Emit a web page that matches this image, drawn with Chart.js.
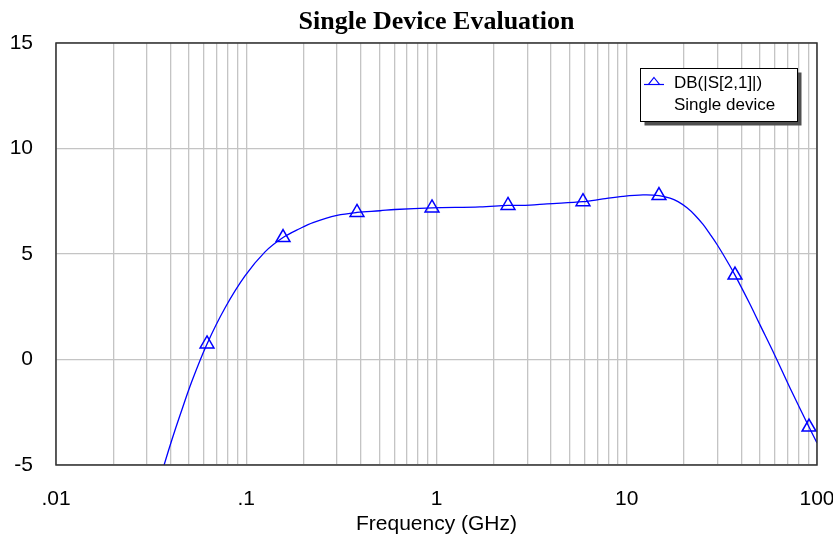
<!DOCTYPE html>
<html>
<head>
<meta charset="utf-8">
<script src="https://cdn.jsdelivr.net/npm/chart.js@4/dist/chart.umd.min.js"></script>
<style>
  html, body { margin: 0; padding: 0; background: #ffffff; }
  canvas { display: block; }
</style>
</head>
<body>
<canvas id="chart" width="833" height="540"></canvas>
<script>
// Swept |S21| of the single device, in dB, against frequency in GHz
const curveFreqGHz = [0.0312, 0.0370, 0.0407, 0.0449, 0.0519, 0.0622, 0.0773, 0.0985, 0.1255,
  0.1561, 0.1917, 0.2244, 0.2999, 0.382, 0.5047, 0.6051, 0.947, 1.692, 2.376, 3.100, 3.808,
  5.888, 7.504, 9.557, 12.17, 14.77, 16.88, 18.60, 20.74, 22.84, 25.18, 27.39, 29.82, 33.65,
  37.07, 43.92, 50.17, 60.15, 72.14, 90.79, 100];
const curveGainDb = [-7.26, -5.00, -3.79, -2.63, -1.01, 0.735, 2.44, 3.96, 5.10,
  5.78, 6.21, 6.49, 6.83, 6.97, 7.05, 7.11, 7.185, 7.23, 7.30, 7.32, 7.38,
  7.48, 7.61, 7.73, 7.80, 7.77, 7.65, 7.48, 7.19, 6.84, 6.40, 5.94, 5.45, 4.67,
  4.00, 2.71, 1.64, 0.18, -1.35, -3.20, -3.96];

// Trace markers placed along the sweep
const markerFreqGHz = [0.0622, 0.1561, 0.382, 0.947, 2.376, 5.888, 14.77, 37.07, 90.79];
const markerGainDb = [0.735, 5.78, 6.97, 7.185, 7.30, 7.48, 7.77, 4.00, -3.20];

// Axis ticks
const xDecades = [0.01, 0.1, 1, 10, 100];
const xDecadeLabels = ['.01', '.1', '1', '10', '100'];
const yTicks = [-5, 0, 5, 10, 15];

const chartTitle = 'Single Device Evaluation';
const traceName = 'DB(|S[2,1]|)';
const traceSubName = 'Single device';

// Log grid: 1..9 within each decade, plus the final decade line
const xGridValues = [];
xDecades.forEach((d, i) => {
  if (i === xDecades.length - 1) { xGridValues.push(d); return; }
  for (let m = 1; m <= 9; m++) xGridValues.push(+(d * m).toPrecision(3));
});

const toPoints = (xs, ys) => xs.map((x, i) => ({ x, y: ys[i] }));

const BLUE = '#0000ff';
const GRID = '#c4c4c4';
const SANS = '"Liberation Sans", Arial, sans-serif';

// Title centred over the plotting area, and the dark frame round it
const frameAndTitle = {
  id: 'frameAndTitle',
  afterDatasetsDraw(chart) {
    const { ctx, chartArea: a } = chart;
    ctx.save();
    ctx.strokeStyle = '#303030';
    ctx.lineWidth = 1.5;
    ctx.strokeRect(Math.round(a.left), Math.round(a.top),
      Math.round(a.right) - Math.round(a.left), Math.round(a.bottom) - Math.round(a.top));
    ctx.fillStyle = '#000000';
    ctx.font = 'bold 26px "Liberation Serif", "Times New Roman", serif';
    ctx.textAlign = 'center';
    ctx.textBaseline = 'alphabetic';
    ctx.fillText(chartTitle, (a.left + a.right) / 2, 29);
    ctx.restore();
  }
};

// Boxed trace legend with a drop shadow, upper right of the plot
const traceLegend = {
  id: 'traceLegend',
  afterDraw(chart) {
    const ctx = chart.ctx;
    const x = 640.5, y = 68.5, w = 157, h = 53;
    ctx.save();
    ctx.fillStyle = '#505050';
    ctx.fillRect(x + 4, y + 4, w, h);
    ctx.fillStyle = '#ffffff';
    ctx.fillRect(x, y, w, h);
    ctx.strokeStyle = '#000000';
    ctx.lineWidth = 1;
    ctx.strokeRect(x, y, w, h);

    ctx.strokeStyle = BLUE;
    ctx.lineWidth = 1.2;
    ctx.beginPath();
    ctx.moveTo(644, 84.5);
    ctx.lineTo(664, 84.5);
    ctx.stroke();
    ctx.beginPath();
    ctx.moveTo(654, 77.5);
    ctx.lineTo(659.5, 84.5);
    ctx.lineTo(648.5, 84.5);
    ctx.closePath();
    ctx.stroke();

    ctx.fillStyle = '#000000';
    ctx.font = '17px ' + SANS;
    ctx.textAlign = 'left';
    ctx.textBaseline = 'alphabetic';
    ctx.fillText(chart.data.datasets[1].label, 674, 88);
    ctx.fillText(traceSubName, 674, 110);
    ctx.restore();
  }
};

new Chart(document.getElementById('chart'), {
  type: 'line',
  data: {
    datasets: [
      {
        label: 'sweep',
        data: toPoints(curveFreqGHz, curveGainDb),
        borderColor: BLUE,
        borderWidth: 1.3,
        pointRadius: 0,
        fill: false,
        tension: 0.35
      },
      {
        label: traceName,
        data: toPoints(markerFreqGHz, markerGainDb),
        showLine: false,
        pointStyle: 'triangle',
        pointRadius: 8,
        pointBorderWidth: 1.5,
        pointBorderColor: BLUE,
        pointBackgroundColor: 'rgba(0,0,0,0)'
      }
    ]
  },
  plugins: [frameAndTitle, traceLegend],
  options: {
    responsive: false,
    devicePixelRatio: 1,
    animation: false,
    events: [],
    layout: { padding: { left: 0, right: 16, top: 43, bottom: 0 } },
    plugins: {
      legend: { display: false },
      tooltip: { enabled: false },
      title: { display: false }
    },
    scales: {
      x: {
        type: 'logarithmic',
        min: 0.01,
        max: 100,
        afterBuildTicks(scale) {
          scale.ticks = xGridValues.map(v => ({ value: v }));
        },
        afterFit(scale) {
          scale.paddingLeft = 0;
          scale.paddingRight = 0;
          scale.height = 75;
        },
        grid: { color: GRID, lineWidth: 1.3, drawTicks: false },
        border: { display: false },
        ticks: {
          autoSkip: false,
          maxRotation: 0,
          minRotation: 0,
          padding: 22,
          color: '#000000',
          font: { family: SANS, size: 21 },
          callback(value) {
            const i = xDecades.findIndex(d => Math.abs(d - value) < d * 1e-6);
            return i >= 0 ? xDecadeLabels[i] : '';
          }
        },
        title: {
          display: true,
          text: 'Frequency (GHz)',
          color: '#000000',
          font: { family: SANS, size: 21 },
          padding: { top: 0, bottom: 3 }
        }
      },
      y: {
        min: -5,
        max: 15,
        afterBuildTicks(scale) {
          scale.ticks = yTicks.map(v => ({ value: v }));
        },
        afterFit(scale) {
          scale.width = 56;
        },
        grid: { color: GRID, lineWidth: 1.3, drawTicks: false },
        border: { display: false },
        ticks: {
          padding: 23,
          color: '#000000',
          font: { family: SANS, size: 21 }
        }
      }
    }
  }
});
</script>
</body>
</html>
